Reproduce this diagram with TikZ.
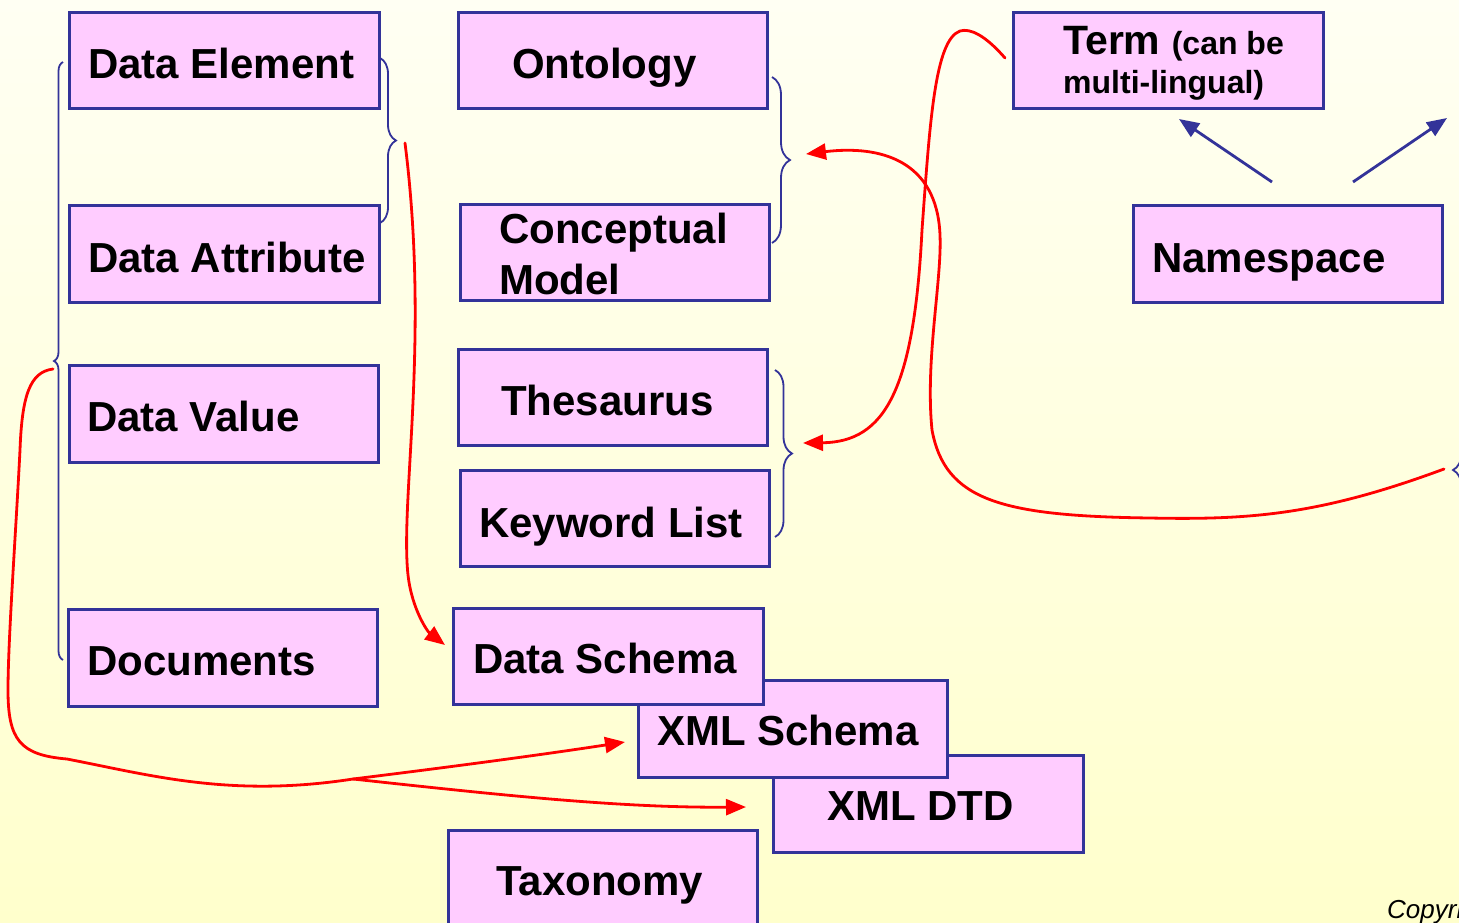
\documentclass[tikz,border=0pt]{standalone}
\usepackage{fontspec}
\setmainfont{Liberation Sans}
\usetikzlibrary{arrows.meta,decorations.pathreplacing}
\definecolor{boxpink}{HTML}{FFCCFF}
\definecolor{edgeblue}{HTML}{333399}
\definecolor{bgtop}{HTML}{FFFFF3}
\definecolor{bgbottom}{HTML}{FFFFCC}
\definecolor{linkred}{HTML}{FF0000}

\begin{document}
\begin{tikzpicture}[x=1pt,y=-1pt,
  box/.style={draw=edgeblue, line width=2.6pt, fill=boxpink, inner sep=0pt,
              anchor=north west, minimum width=#1, minimum height=96pt},
  box/.default=309pt,
  lbl/.style={font=\bfseries\fontsize{42}{51}\selectfont, inner sep=0pt, anchor=base west},
  bracket/.style={draw=edgeblue, line width=1.8pt, decorate},
  link/.style={draw=linkred, line width=2.8pt, line cap=round},
  linkarrow/.style={link, -{Triangle[length=20pt,width=16pt]}},
  nsarrow/.style={draw=edgeblue, line width=2.8pt, -{Triangle[length=20pt,width=16pt]}}
]
\useasboundingbox (0,0) rectangle (1459,922);
\clip (0,0) rectangle (1459,922);
\shade[top color=bgtop, bottom color=bgbottom] (0,0) rectangle (1459,922);

% left column
\node[box=310pt] (de) at (68,11) {};
\node[lbl] (de-t) at (88,78) {Data Element};
\node[box=310pt, minimum height=97pt] (da) at (68,204) {};
\node[lbl] (da-t) at (88,272) {Data Attribute};
\node[box, minimum height=97pt] (dv) at (68,364) {};
\node[lbl] (dv-t) at (87,431) {Data Value};
\node[box, minimum height=97pt] (doc) at (67,608) {};
\node[lbl] (doc-t) at (87,675) {Documents};

% middle column
\node[box] (onto) at (457,11) {};
\node[lbl] (onto-t) at (512,78) {Ontology};
\node[box] (cm) at (459,203) {};
\node[lbl] (cm-t1) at (499,243) {Conceptual};
\node[lbl] (cm-t2) at (499,294) {Model};
\node[box] (thes) at (457,348) {};
\node[lbl] (thes-t) at (501,415) {Thesaurus};
\node[box] (kw) at (459,469) {};
\node[lbl] (kw-t) at (479,537) {Keyword List};

% schema stack, back to front
\node[box=310pt, minimum height=97pt] (dtd) at (772,754) {};
\node[lbl] (dtd-t) at (827,820) {XML DTD};
\node[box, minimum height=97pt] (xmls) at (637,679) {};
\node[lbl] (xmls-t) at (657,745) {XML Schema};
\node[box=310pt] (ds) at (452,607) {};
\node[lbl] (ds-t) at (473,673) {Data Schema};
\node[box, minimum height=110pt] (tax) at (447,829) {};
\node[lbl] (tax-t) at (496,895) {Taxonomy};

% right side
\node[box=310pt] (term) at (1012,11) {};
\node[inner sep=0pt, anchor=base west, font=\bfseries] (term-t1) at (1063,54)
  {\fontsize{41}{41}\selectfont Term {\fontsize{32}{32}\selectfont(can be}};
\node[inner sep=0pt, anchor=base west, font=\bfseries\fontsize{32}{32}\selectfont] (term-t2) at (1063,93) {multi-lingual)};
\node[box, minimum height=97pt] (ns) at (1132,204) {};
\node[lbl] (ns-t) at (1152,272) {Namespace};

\node[inner sep=0pt, anchor=base west, font=\itshape\fontsize{26}{26}\selectfont] (copy) at (1387,918) {Copyright};

% grouping braces
\draw[bracket, decoration={brace, amplitude=9pt}] (63,660) -- (63,62);
\draw[bracket, decoration={brace, amplitude=16pt}] (380,58) -- (380,223);
\draw[bracket, decoration={brace, amplitude=18pt}] (772,77) -- (772,243);
\draw[bracket, decoration={brace, amplitude=17pt}] (775,370) -- (775,537);
\draw[bracket, decoration={brace, amplitude=17pt}] (1470,560) -- (1470,380);

% connector ends
\coordinate (deGrp) at (405,143);
\coordinate (ontoGrp) at (806,154);
\coordinate (thesGrp) at (803,443);
\coordinate (rightGrp) at (1444,469);
\coordinate (leftGrp) at (53,369);
\coordinate (termEnd) at (1005,58);
\coordinate (fork) at (353,779);
\coordinate (xmlsEnd) at (625,742);
\coordinate (dtdEnd) at (746,807);
\coordinate (dsEnd) at (445,645);
\coordinate (nsL) at (1272,182);
\coordinate (nsR) at (1353,182);
\coordinate (termArr) at (1179,119);
\coordinate (offArr) at (1447,118);

% red links
\draw[linkarrow] (deGrp) .. controls (430,340) and (400,500) .. (408,575)
  .. controls (412,610) and (428,632) .. (dsEnd);
\draw[linkarrow] (termEnd) .. controls (985,35) and (970,28) .. (960,31)
  .. controls (935,40) and (930,120) .. (922,230)
  .. controls (914,390) and (885,442) .. (thesGrp);
\draw[linkarrow] (rightGrp) .. controls (1320,515) and (1250,520) .. (1150,518)
  .. controls (1000,516) and (945,500) .. (932,430)
  .. controls (925,360) and (942,280) .. (940,235)
  .. controls (937,160) and (880,145) .. (ontoGrp);
\draw[linkarrow] (leftGrp) .. controls (30,372) and (22,395) .. (20,450)
  .. controls (16,530) and (8,640) .. (8,690)
  .. controls (8,740) and (20,755) .. (67,759)
  .. controls (150,775) and (230,798) .. (fork)
  .. controls (450,767) and (540,755) .. (xmlsEnd);
\draw[linkarrow] (fork) .. controls (500,795) and (620,808) .. (dtdEnd);

% namespace arrows
\draw[nsarrow] (nsL) -- (termArr);
\draw[nsarrow] (nsR) -- (offArr);
\end{tikzpicture}
\end{document}
